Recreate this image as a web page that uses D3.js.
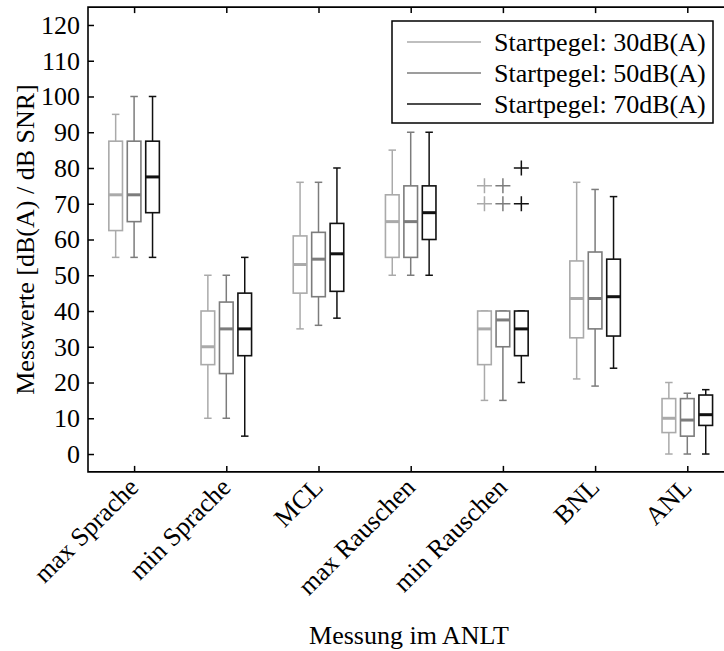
<!DOCTYPE html>
<html>
<head>
<meta charset="utf-8">
<script src="https://cdn.jsdelivr.net/npm/d3@7"></script>
<style>
  html, body { margin: 0; padding: 0; background: #fff; }
  svg { display: block; }
  text { font-family: "Liberation Serif", "Times New Roman", serif; fill: #000; }
</style>
</head>
<body>
<svg id="chart" width="724" height="651"></svg>
<script>
const categories = ["max Sprache", "min Sprache", "MCL", "max Rauschen", "min Rauschen", "BNL", "ANL"];
const seriesNames = ["Startpegel: 30dB(A)", "Startpegel: 50dB(A)", "Startpegel: 70dB(A)"];
const seriesColors = ["#aaaaaa", "#7c7c7c", "#111111"];
const yTicks = [0, 10, 20, 30, 40, 50, 60, 70, 80, 90, 100, 110, 120];

// per series (30, 50, 70 dB(A)), per category
const whiskerLow = [
  [55, 10, 35, 50, 15, 21, 0],
  [55, 10, 36, 50, 15, 19, 0],
  [55, 5, 38, 50, 20, 24, 0]
];
const q1 = [
  [62.5, 25, 45, 55, 25, 32.5, 6],
  [65, 22.5, 44, 55, 30, 35, 5],
  [67.5, 27.5, 45.5, 60, 27.5, 33, 8]
];
const median = [
  [72.5, 30, 53, 65, 35, 43.5, 10],
  [72.5, 35, 54.5, 65, 37.5, 43.5, 9.5],
  [77.5, 35, 56, 67.5, 35, 44, 11]
];
const q3 = [
  [87.5, 40, 61, 72.5, 40, 54, 15.5],
  [87.5, 42.5, 62, 75, 40, 56.5, 15.5],
  [87.5, 45, 64.5, 75, 40, 54.5, 16.5]
];
const whiskerHigh = [
  [95, 50, 76, 85, 40, 76, 20],
  [100, 50, 76, 90, 40, 74, 17],
  [100, 55, 80, 90, 40, 72, 18]
];
// outliers: [categoryIndex, value]
const outliers = [
  [[4, 70], [4, 75]],
  [[4, 70], [4, 75]],
  [[4, 70], [4, 80]]
];

const svg = d3.select("#chart");
const pLeft = 88, pRight = 733.4, pTop = 7.1, pBottom = 471.9;

const x = d3.scaleLinear().domain([0.5, categories.length + 0.5]).range([pLeft, pRight]);
const y = d3.scaleLinear().domain([-5, 125]).range([pBottom, pTop]);
const offsets = [-0.2, 0, 0.2];
const boxW = 0.148;

const g = svg.append("g");

// boxes
seriesNames.forEach((name, s) => {
  const col = seriesColors[s];
  const sg = g.append("g");
  categories.forEach((c, i) => {
    const cx = x(i + 1 + offsets[s]);
    const hw = (x(boxW) - x(0)) / 2;
    const capW = hw * 0.55;
    // whiskers
    sg.append("line").attr("x1", cx).attr("x2", cx)
      .attr("y1", y(q3[s][i])).attr("y2", y(whiskerHigh[s][i]))
      .attr("stroke", col).attr("stroke-width", 1.5);
    sg.append("line").attr("x1", cx).attr("x2", cx)
      .attr("y1", y(q1[s][i])).attr("y2", y(whiskerLow[s][i]))
      .attr("stroke", col).attr("stroke-width", 1.5);
    // caps
    [whiskerHigh[s][i], whiskerLow[s][i]].forEach(v => {
      sg.append("line").attr("x1", cx - capW).attr("x2", cx + capW)
        .attr("y1", y(v)).attr("y2", y(v))
        .attr("stroke", col).attr("stroke-width", 1.5);
    });
    // box
    sg.append("rect").attr("x", cx - hw).attr("width", 2 * hw)
      .attr("y", y(q3[s][i])).attr("height", y(q1[s][i]) - y(q3[s][i]))
      .attr("fill", "#fff").attr("stroke", col).attr("stroke-width", 1.6);
    // median
    sg.append("line").attr("x1", cx - hw).attr("x2", cx + hw)
      .attr("y1", y(median[s][i])).attr("y2", y(median[s][i]))
      .attr("stroke", col).attr("stroke-width", 3);
  });
  // outliers
  outliers[s].forEach(([i, v]) => {
    const cx = x(i + 1 + offsets[s]);
    const cy = y(v);
    const r = 7.5;
    sg.append("path")
      .attr("d", `M${cx - r},${cy}H${cx + r}M${cx},${cy - r}V${cy + r}`)
      .attr("stroke", col).attr("stroke-width", 1.5).attr("fill", "none");
  });
});

// axes
const tickFont = 26;
const yAxis = d3.axisLeft(y).tickValues(yTicks).tickSize(-6).tickPadding(8).tickFormat(d3.format("d"));
const yG = svg.append("g").attr("transform", `translate(${pLeft},0)`).call(yAxis);
yG.select(".domain").remove();
yG.selectAll(".tick line").attr("stroke", "#000").attr("stroke-width", 1.5);
yG.selectAll(".tick text").attr("font-size", tickFont).attr("font-family", "Liberation Serif");

const xAxis = d3.axisBottom(x).tickValues(d3.range(1, categories.length + 1)).tickSize(-6).tickFormat("");
const xG = svg.append("g").attr("transform", `translate(0,${pBottom})`).call(xAxis);
xG.select(".domain").remove();
xG.selectAll(".tick line").attr("stroke", "#000").attr("stroke-width", 1.5);

const xTop = d3.axisTop(x).tickValues(d3.range(1, categories.length + 1)).tickSize(-6).tickFormat("");
const xTG = svg.append("g").attr("transform", `translate(0,${pTop})`).call(xTop);
xTG.select(".domain").remove();
xTG.selectAll(".tick line").attr("stroke", "#000").attr("stroke-width", 1.5);

// frame
svg.append("path")
  .attr("d", `M${pRight},${pTop}H${pLeft}V${pBottom}H${pRight}`)
  .attr("fill", "none").attr("stroke", "#000").attr("stroke-width", 1.6);

// category labels (rotated)
categories.forEach((c, i) => {
  svg.append("text")
    .attr("transform", `translate(${x(i + 1) - 7},${pBottom + 4}) rotate(-45)`)
    .attr("text-anchor", "end")
    .attr("dy", "0.7em")
    .attr("font-size", tickFont)
    .text(c);
});

// axis titles
svg.append("text")
  .attr("transform", `translate(409,644)`)
  .attr("text-anchor", "middle")
  .attr("font-size", tickFont)
  .text("Messung im ANLT");

svg.append("text")
  .attr("transform", `translate(34,${(pTop + pBottom) / 2}) rotate(-90)`)
  .attr("text-anchor", "middle")
  .attr("font-size", tickFont)
  .text("Messwerte [dB(A) / dB SNR]");

// legend
const lg = svg.append("g");
lg.append("rect").attr("x", 392).attr("y", 21).attr("width", 321).attr("height", 102)
  .attr("fill", "#fff").attr("stroke", "#000").attr("stroke-width", 1.5);
seriesNames.forEach((name, s) => {
  const ly = 42 + s * 31;
  lg.append("line").attr("x1", 407).attr("x2", 481).attr("y1", ly).attr("y2", ly)
    .attr("stroke", seriesColors[s]).attr("stroke-width", 1.3);
  lg.append("text").attr("x", 494).attr("y", ly).attr("dy", "0.35em")
    .attr("font-size", tickFont).text(name);
});
</script>
</body>
</html>
